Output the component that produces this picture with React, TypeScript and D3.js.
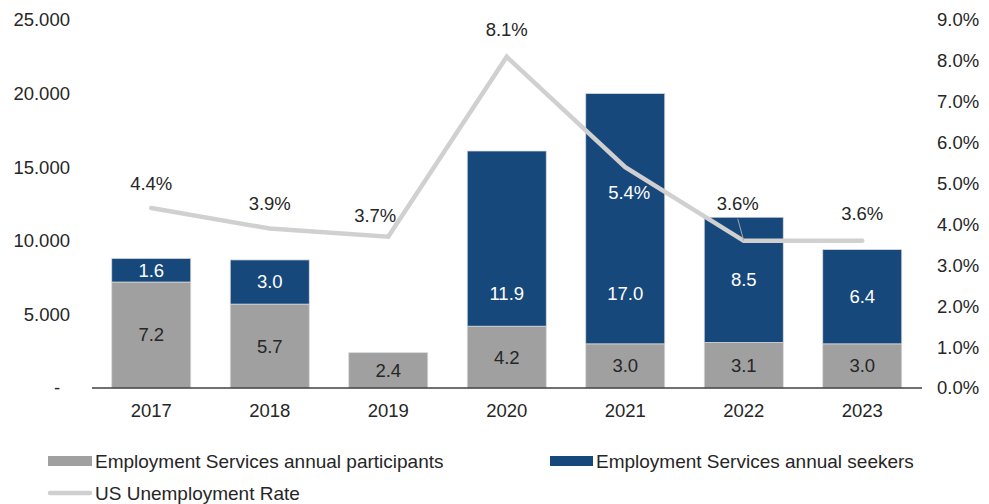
import React from "react";
import * as d3 from "d3";

const years = ["2017", "2018", "2019", "2020", "2021", "2022", "2023"];
const participants = [7.2, 5.7, 2.4, 4.2, 3.0, 3.1, 3.0];
const seekers = [1.6, 3.0, 0, 11.9, 17.0, 8.5, 6.4];
const unemployment = [4.4, 3.9, 3.7, 8.1, 5.4, 3.6, 3.6];
const leftTicks = [0, 5, 10, 15, 20, 25];
const rightTicks = [0, 1, 2, 3, 4, 5, 6, 7, 8, 9];
const seriesNames = [
  "Employment Services annual participants",
  "Employment Services annual seekers",
  "US Unemployment Rate",
];

const W = 989;
const H = 504;
const GRAY = "#A0A0A0";
const BLUE = "#17487C";
const LINE = "#D0D0D0";
const TEXT = "#262626";
const FONT = "'Liberation Sans', Arial, sans-serif";
const FS = 18.5;

// label nudges (dx, dy) relative to each line point
const pctLabelShift: [number, number][] = [
  [0, -25],
  [0, -25],
  [-13, -21],
  [0, -27],
  [4, 25],
  [-6, -37],
  [0, -27],
];
// manual label placement (in axis units) for some seeker labels; null = centred
const seekerLabelLevel: (number | null)[] = [null, null, null, 6.45, 6.45, null, null];

export default function App() {
  const x = d3
    .scaleBand<string>()
    .domain(years)
    .range([92, 921.5])
    .paddingInner(1 / 3)
    .paddingOuter(1 / 6);
  const yL = d3.scaleLinear().domain([0, 25]).range([388, 20]);
  const yR = d3.scaleLinear().domain([0, 9]).range([388, 20]);
  const bw = x.bandwidth();
  const cx = (y: string) => (x(y) as number) + bw / 2;

  const line = d3
    .line<number>()
    .x((_, i) => cx(years[i]))
    .y((d) => yR(d));

  const fmtL = (v: number) => (v === 0 ? "-" : d3.format(".3f")(v));

  return (
    <svg
      width={W}
      height={H}
      style={{ position: "absolute", left: 0, top: 0, background: "#fff" }}
      fontFamily={FONT}
      fontSize={FS}
    >
      {/* left axis labels */}
      {leftTicks.map((t) =>
        t === 0 ? (
          <text key={t} x={57} y={yL(t)} dy="0.35em" textAnchor="middle" fill={TEXT}>
            -
          </text>
        ) : (
          <text key={t} x={70} y={yL(t)} dy="0.35em" textAnchor="end" fill={TEXT}>
            {fmtL(t)}
          </text>
        )
      )}
      {/* right axis labels */}
      {rightTicks.map((t) => (
        <text key={t} x={937} y={yR(t)} dy="0.35em" textAnchor="start" fill={TEXT}>
          {d3.format(".1f")(t) + "%"}
        </text>
      ))}

      {/* bars */}
      {years.map((yr, i) => {
        const p = participants[i];
        const s = seekers[i];
        const lvl = seekerLabelLevel[i];
        return (
          <g key={yr}>
            <rect
              x={x(yr)}
              y={yL(p)}
              width={bw}
              height={yL(0) - yL(p)}
              fill={GRAY}
              stroke="#D9D9D9"
              strokeWidth={0.75}
            />
            {s > 0 && (
              <rect
                x={x(yr)}
                y={yL(p + s)}
                width={bw}
                height={yL(p) - yL(p + s)}
                fill={BLUE}
                stroke="#D9D9D9"
                strokeWidth={0.75}
              />
            )}
            <text
              x={cx(yr)}
              y={yL(p / 2)}
              dy="0.35em"
              textAnchor="middle"
              fill={TEXT}
            >
              {d3.format(".1f")(p)}
            </text>
            {s > 0 && (
              <text
                x={cx(yr)}
                y={yL(lvl == null ? p + s / 2 : lvl)}
                dy="0.35em"
                textAnchor="middle"
                fill="#fff"
              >
                {d3.format(".1f")(s)}
              </text>
            )}
          </g>
        );
      })}

      {/* x axis line */}
      <line x1={92} x2={922} y1={388} y2={388} stroke="#404040" strokeWidth={1.3} />
      {years.map((yr) => (
        <text key={yr} x={cx(yr)} y={411} dy="0.35em" textAnchor="middle" fill={TEXT}>
          {yr}
        </text>
      ))}

      {/* unemployment line */}
      <path
        d={line(unemployment) || ""}
        fill="none"
        stroke={LINE}
        strokeWidth={4.5}
        strokeLinecap="round"
      />
      {/* leader line for 2022 */}
      <line
        x1={cx(years[5]) - 6}
        y1={yR(unemployment[5]) - 22}
        x2={cx(years[5])}
        y2={yR(unemployment[5])}
        stroke="#A6A6A6"
        strokeWidth={1}
      />
      {unemployment.map((u, i) => (
        <text
          key={i}
          x={cx(years[i]) + pctLabelShift[i][0]}
          y={yR(u) + pctLabelShift[i][1]}
          dy="0.35em"
          textAnchor="middle"
          fill={i === 4 ? "#fff" : TEXT}
        >
          {d3.format(".1f")(u) + "%"}
        </text>
      ))}

      {/* legend */}
      <g fontSize={19}>
        <rect x={48} y={456} width={44} height={10} fill={GRAY} />
        <text x={95} y={461} dy="0.35em" fill={TEXT}>
          {seriesNames[0]}
        </text>
        <rect x={550} y={456} width={43} height={10} fill={BLUE} />
        <text x={596} y={461} dy="0.35em" fill={TEXT}>
          {seriesNames[1]}
        </text>
        <line x1={50} x2={90} y1={493} y2={493} stroke={LINE} strokeWidth={4.5} strokeLinecap="round" />
        <text x={95} y={493} dy="0.35em" fill={TEXT}>
          {seriesNames[2]}
        </text>
      </g>
    </svg>
  );
}
